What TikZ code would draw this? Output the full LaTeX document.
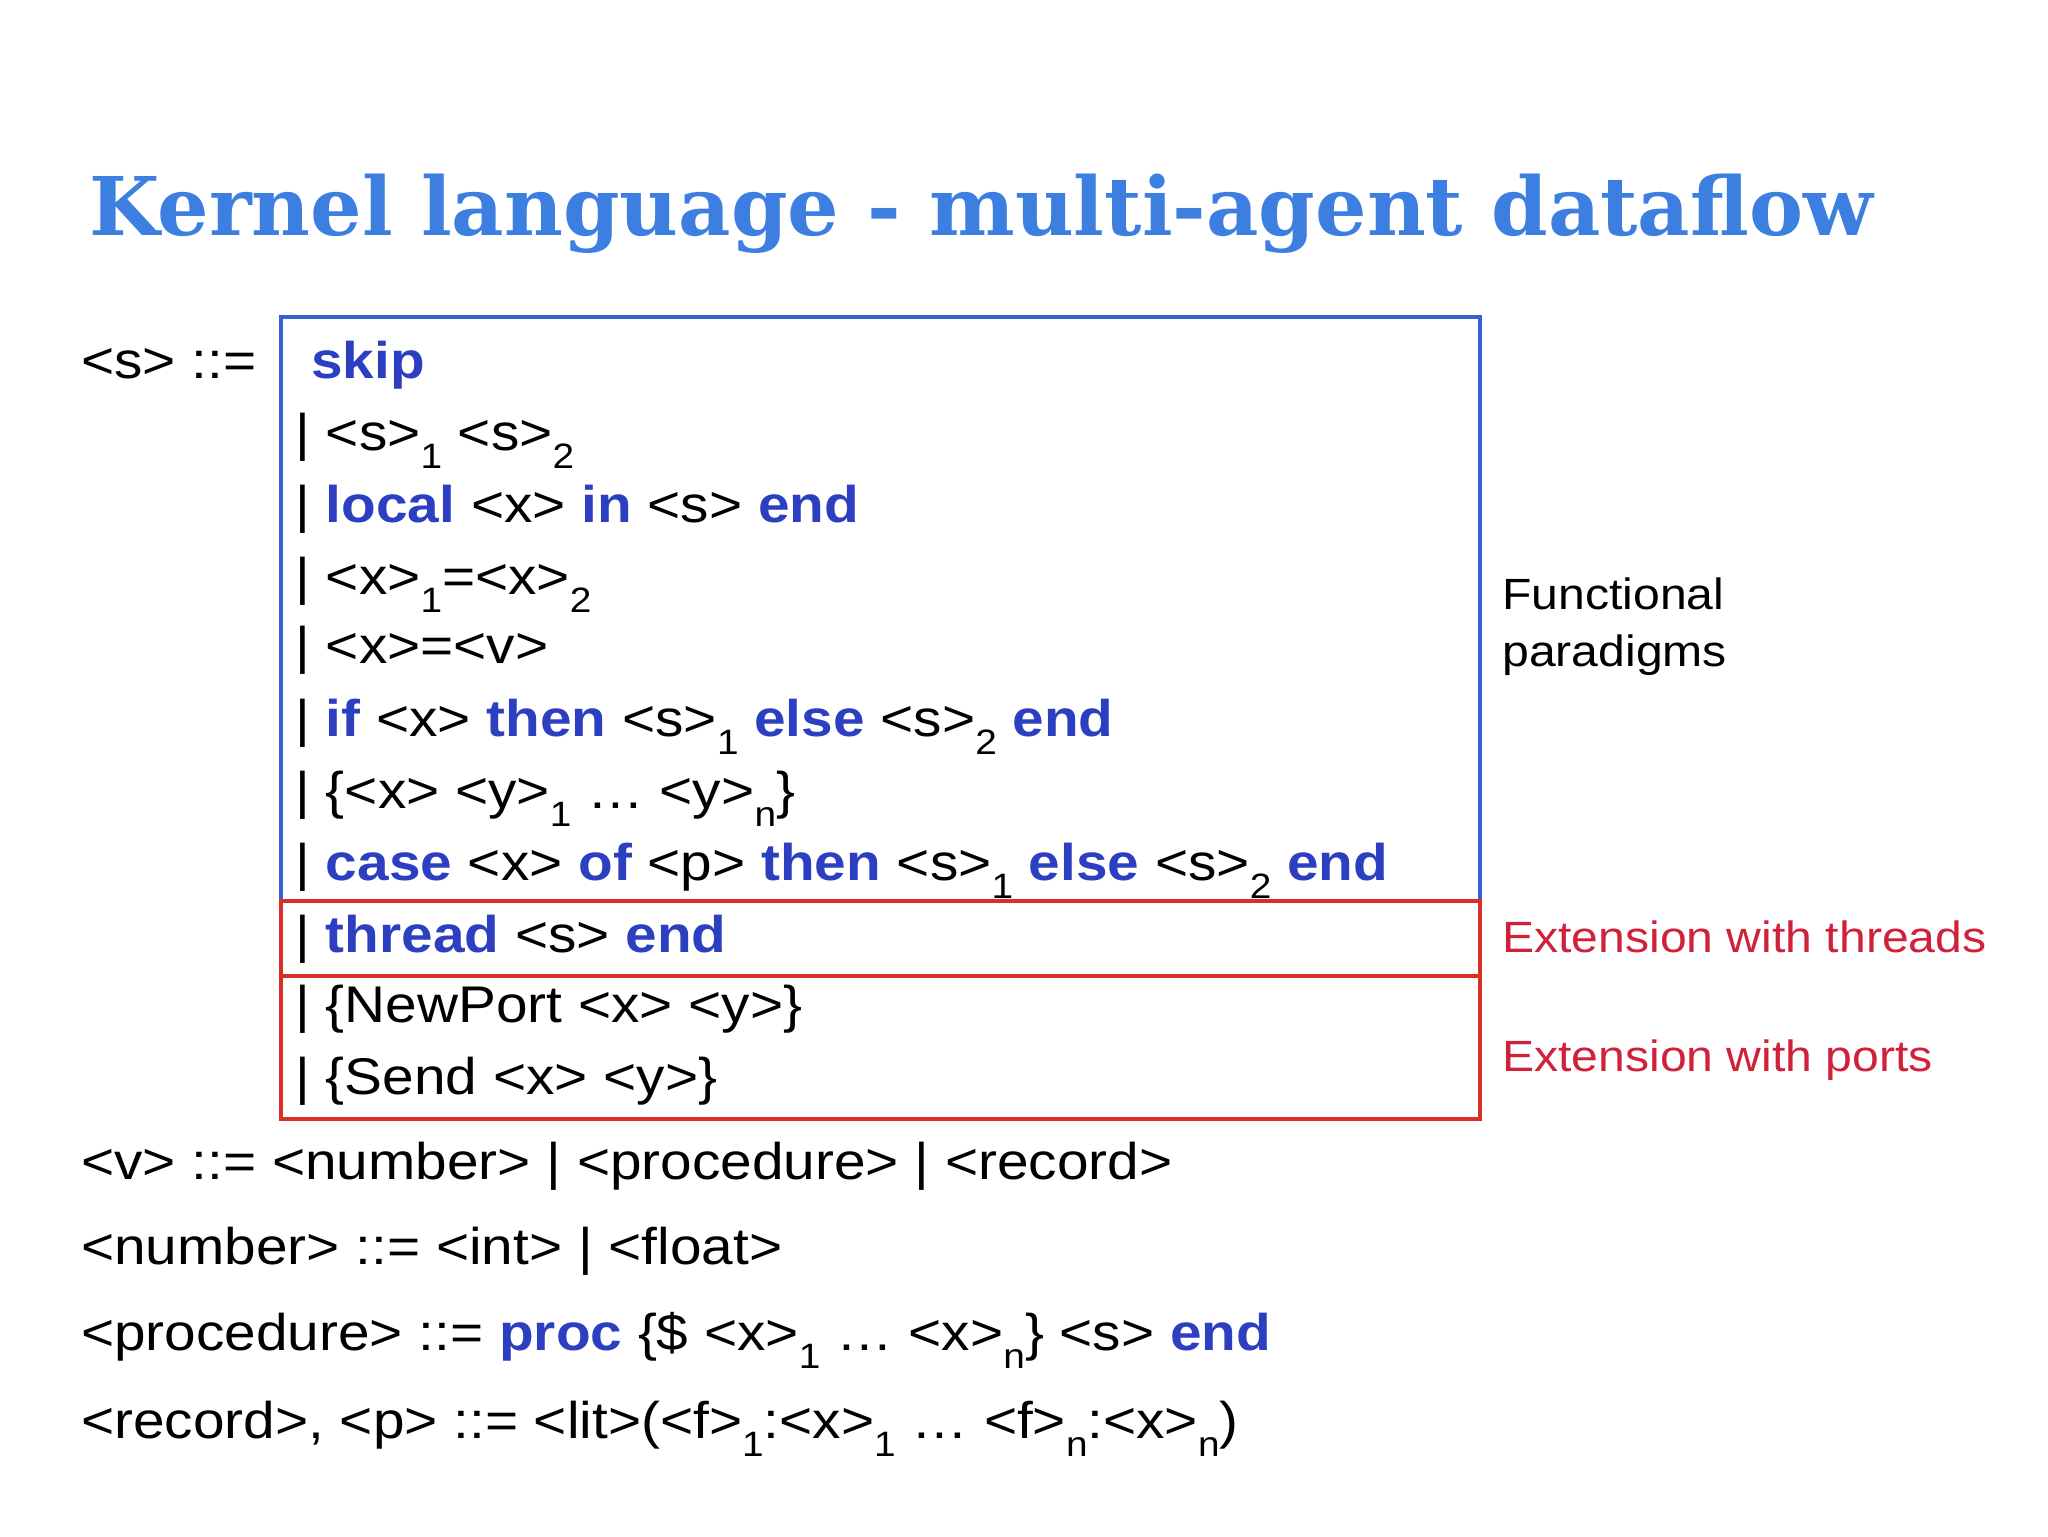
\documentclass[tikz,border=0pt]{standalone}
\usepackage{fontspec}
\setmainfont[FakeStretch=1.1]{Liberation Sans}
\newfontfamily\titlefont{DejaVu Serif}
\definecolor{titleblue}{HTML}{3D7FE0}
\definecolor{kw}{HTML}{2B3FC0}
\definecolor{boxblue}{HTML}{3A5FD0}
\definecolor{boxred}{HTML}{D83028}
\definecolor{labred}{HTML}{D0203A}
\newcommand{\ssb}[1]{\raisebox{-0.35em}{\fontsize{27}{27}\selectfont #1}}
\newcommand{\kwd}[1]{{\bfseries\color{kw}#1}}
\tikzset{ln/.style={anchor=base west,inner sep=0pt,font=\fontsize{39.5}{40}\selectfont},
lab/.style={anchor=base west,inner sep=0pt,font=\fontsize{33.5}{36}\selectfont,align=left}}
\begin{document}
\begin{tikzpicture}[x=1pt,y=-1pt]
\useasboundingbox (0,0) rectangle (1568,1176);
\node[anchor=base west,inner sep=0pt,text=titleblue,font=\titlefont\bfseries\fontsize{62}{64}\selectfont] (title) at (68,180) {Kernel language - multi-agent dataflow};
\draw[boxblue,line width=3pt] (215,243) rectangle (1133,690);
\draw[boxred,line width=3pt] (215,690) rectangle (1133,747);
\draw[boxred,line width=3pt] (215,747) rectangle (1133,857);
\node[ln] (s0) at (62,290) {<s> ::=};
\node[ln] (l1) at (238,290) {\kwd{skip}};
\node[ln] (l2) at (226,345) {| <s>\ssb{1} <s>\ssb{2}};
\node[ln] (l3) at (226,400) {| \kwd{local} <x> \kwd{in} <s> \kwd{end}};
\node[ln] (l4) at (226,455) {| <x>\ssb{1}=<x>\ssb{2}};
\node[ln] (l5) at (226,508) {| <x>=<v>};
\node[ln] (l6) at (226,564) {| \kwd{if} <x> \kwd{then} <s>\ssb{1} \kwd{else} <s>\ssb{2} \kwd{end}};
\node[ln] (l7) at (226,619) {| \{<x> <y>\ssb{1} … <y>\ssb{n}\}};
\node[ln] (l8) at (226,674) {| \kwd{case} <x> \kwd{of} <p> \kwd{then} <s>\ssb{1} \kwd{else} <s>\ssb{2} \kwd{end}};
\node[ln] (l9) at (226,729) {| \kwd{thread} <s> \kwd{end}};
\node[ln] (l10) at (226,783) {| \{NewPort <x> <y>\}};
\node[ln] (l11) at (226,838) {| \{Send <x> <y>\}};
\node[ln] (v) at (62,903) {<v> ::= <number> | <procedure> | <record>};
\node[ln] (n) at (62,968) {<number> ::= <int> | <float>};
\node[ln] (p) at (62,1034) {<procedure> ::= \kwd{proc} \{\$ <x>\ssb{1} … <x>\ssb{n}\} <s> \kwd{end}};
\node[ln] (r) at (62,1101) {<record>, <p> ::= <lit>(<f>\ssb{1}:<x>\ssb{1} … <f>\ssb{n}:<x>\ssb{n})};
\node[lab] (f1) at (1150,467) {Functional};
\node[lab] (f2) at (1150,510) {paradigms};
\node[lab,text=labred] (t) at (1150,729) {Extension with threads};
\node[lab,text=labred] (pp) at (1150,820) {Extension with ports};
\end{tikzpicture}
\end{document}
